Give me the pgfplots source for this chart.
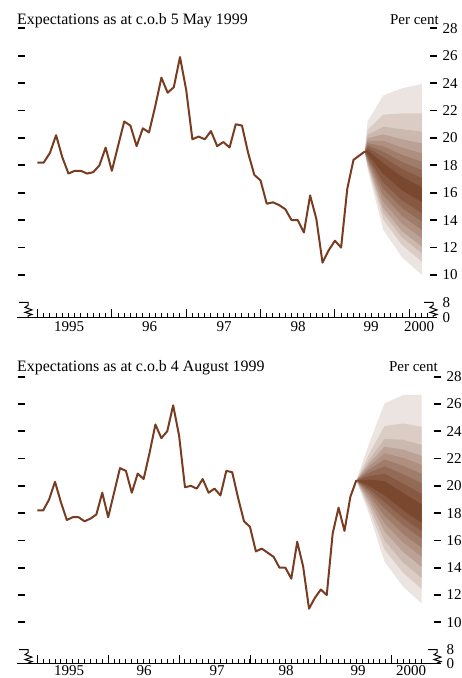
\documentclass[border=0pt]{standalone}
\usepackage{fontspec}
\setmainfont{Liberation Serif}
\usepackage{pgfplots}
\pgfplotsset{compat=1.18}
\usepackage{pgfplotstable}
\usepgfplotslibrary{fillbetween}
\definecolor{linebrown}{RGB}{120,60,33}
\definecolor{fanbrown}{RGB}{115,62,36}
\colorlet{fan1}{fanbrown!14}
\colorlet{fan2}{fanbrown!26}
\colorlet{fan3}{fanbrown!37}
\colorlet{fan4}{fanbrown!48}
\colorlet{fan5}{fanbrown!58}
\colorlet{fan6}{fanbrown!68}
\colorlet{fan7}{fanbrown!77}
\colorlet{fan8}{fanbrown!86}
\colorlet{fan9}{fanbrown!95}

\pgfplotstableread{
t y
1995.0000 18.2
1995.0833 18.2
1995.1667 18.9
1995.2500 20.2
1995.3333 18.6
1995.4167 17.4
1995.5000 17.6
1995.5833 17.6
1995.6667 17.4
1995.7500 17.5
1995.8333 18.0
1995.9167 19.3
1996.0000 17.6
1996.0833 19.4
1996.1667 21.2
1996.2500 20.9
1996.3333 19.4
1996.4167 20.7
1996.5000 20.4
1996.5833 22.3
1996.6667 24.4
1996.7500 23.3
1996.8333 23.7
1996.9167 25.9
1997.0000 23.5
1997.0833 19.9
1997.1667 20.1
1997.2500 19.9
1997.3333 20.5
1997.4167 19.4
1997.5000 19.7
1997.5833 19.3
1997.6667 21.0
1997.7500 20.9
1997.8333 18.9
1997.9167 17.3
1998.0000 16.9
1998.0833 15.2
1998.1667 15.3
1998.2500 15.1
1998.3333 14.8
1998.4167 14.0
1998.5000 14.0
1998.5833 13.1
1998.6667 15.8
1998.7500 14.1
1998.8333 10.9
1998.9167 11.8
1999.0000 12.5
1999.0833 12.0
1999.1667 16.3
1999.2500 18.4
1999.4000 19.0
}\lineA

\pgfplotstableread{
t y
1995.0000 18.2
1995.0833 18.2
1995.1667 19.0
1995.2500 20.3
1995.3333 18.8
1995.4167 17.5
1995.5000 17.7
1995.5833 17.7
1995.6667 17.4
1995.7500 17.6
1995.8333 17.9
1995.9167 19.5
1996.0000 17.7
1996.0833 19.5
1996.1667 21.3
1996.2500 21.1
1996.3333 19.5
1996.4167 20.9
1996.5000 20.5
1996.5833 22.4
1996.6667 24.5
1996.7500 23.5
1996.8333 24.0
1996.9167 25.9
1997.0000 23.7
1997.0833 19.9
1997.1667 20.0
1997.2500 19.8
1997.3333 20.5
1997.4167 19.5
1997.5000 19.8
1997.5833 19.3
1997.6667 21.1
1997.7500 21.0
1997.8333 19.1
1997.9167 17.4
1998.0000 17.0
1998.0833 15.2
1998.1667 15.4
1998.2500 15.1
1998.3333 14.8
1998.4167 14.0
1998.5000 14.0
1998.5833 13.2
1998.6667 15.9
1998.7500 14.1
1998.8333 11.0
1998.9167 11.8
1999.0000 12.4
1999.0833 12.0
1999.1667 16.5
1999.2500 18.4
1999.3333 16.7
1999.4167 19.2
1999.5000 20.4
}\lineB

\pgfplotstableread{
t q05 q10 q15 q20 q25 q30 q35 q40 q45 q55 q60 q65 q70 q75 q80 q85 q90 q95
1999.40 19.0 19.0 19.0 19.0 19.0 19.0 19.0 19.0 19.0 19.0 19.0 19.0 19.0 19.0 19.0 19.0 19.0 19.0
1999.44 17.70 17.91 18.04 18.14 18.27 18.40 18.53 18.66 18.83 19.10 19.29 19.45 19.62 19.79 19.99 20.23 20.60 21.20
1999.65 13.30 14.05 14.52 14.89 15.36 15.82 16.30 16.76 17.38 18.16 18.60 18.99 19.39 19.79 20.26 20.82 21.70 23.10
1999.90 11.30 12.20 12.76 13.21 13.77 14.33 14.90 15.45 16.19 17.17 17.74 18.25 18.77 19.30 19.91 20.64 21.79 23.62
2000.17 10.00 10.97 11.58 12.07 12.68 13.28 13.90 14.50 15.30 16.40 17.06 17.66 18.27 18.88 19.60 20.46 21.80 23.94
}\fanA

\pgfplotstableread{
t q05 q10 q15 q20 q25 q30 q35 q40 q45 q55 q60 q65 q70 q75 q80 q85 q90 q95
1999.5 20.4 20.4 20.4 20.4 20.4 20.4 20.4 20.4 20.4 20.4 20.4 20.4 20.4 20.4 20.4 20.4 20.4 20.4
1999.69 17.80 18.19 18.49 18.79 19.06 19.31 19.55 19.75 19.98 20.46 20.73 20.99 21.23 21.46 21.69 21.97 22.43 23.24
1999.90 14.44 15.32 15.98 16.65 17.25 17.80 18.35 18.80 19.30 20.34 20.89 21.43 21.93 22.39 22.87 23.44 24.39 26.05
2000.16 12.61 13.63 14.39 15.16 15.86 16.49 17.12 17.65 18.22 19.48 20.17 20.85 21.47 22.06 22.66 23.38 24.57 26.66
2000.42 11.39 12.46 13.27 14.07 14.81 15.47 16.14 16.69 17.30 18.66 19.42 20.19 20.88 21.54 22.20 23.00 24.33 26.66
}\fanB

\pgfplotsset{
  fanaxis/.style={
    scale only axis,
    axis line style={draw=none},
    tick align=inside,
    xtick pos=left,
    ytick pos=both,
    yticklabel pos=right,
    ymax=28,
    xtick={1995,1996,1997,1998,1999,2000},
    xticklabels={},
    ytick={10,12,...,28},
    major tick length=7pt,
    minor tick length=4pt,
    major x tick style={/pgfplots/major tick length=8pt},
    x tick style={black, line width=0.9pt},
    y tick style={black, line width=1.7pt},
    tick label style={font=\fontsize{15}{18}\selectfont},
    /pgf/number format/assume math mode=true,
    yticklabel style={anchor=west, xshift=2pt},
  }
}

\newcommand{\brk}[3]{%
  \draw[line width=1pt] ({#1-9},{-#2}) -- ({#1},{-#2}) -- ({#1},{-#2-3}) -- ({#1-3},{-#2-5}) -- ({#1+4},{-#2-7.5}) -- ({#1-3},{-#2-10}) -- ({#1+4},{-#2-12}) -- ({#1},{-#2-13.5}) -- ({#1},{-#3});}

\begin{document}
\begin{tikzpicture}[x=1pt,y=1pt]

% ---------- top panel ----------
\begin{axis}[fanaxis,
  at={(18pt,-317.3pt)}, anchor=south west,
  width=419pt, height=289pt,
  xmin=1994.738, xmax=2000.373, ymin=6.91,
  minor xtick={1995,1995.08333,...,2000.2},
  extra y ticks={6.91,8},
  extra y tick labels={0,8},
  extra y tick style={major tick length=0pt},
  ]
  \pgfplotsinvokeforeach{05,10,15,20,25,30,35,40,45,55,60,65,70,75,80,85,90,95}{
    \addplot[draw=none, forget plot, name path=a#1] table[x=t, y=q#1]{\fanA};
  }
  \addplot[fill=fan1, draw=none] fill between[of=a95 and a05];
  \addplot[fill=fan2, draw=none] fill between[of=a90 and a10];
  \addplot[fill=fan3, draw=none] fill between[of=a85 and a15];
  \addplot[fill=fan4, draw=none] fill between[of=a80 and a20];
  \addplot[fill=fan5, draw=none] fill between[of=a75 and a25];
  \addplot[fill=fan6, draw=none] fill between[of=a70 and a30];
  \addplot[fill=fan7, draw=none] fill between[of=a65 and a35];
  \addplot[fill=fan8, draw=none] fill between[of=a60 and a40];
  \addplot[fill=fan9, draw=none] fill between[of=a55 and a45];
  \addplot[linebrown, line width=2pt, line join=round] table[x=t, y=y]{\lineA};
\end{axis}

% ---------- bottom panel ----------
\begin{axis}[fanaxis,
  at={(18pt,-663.3pt)}, anchor=south west,
  width=423pt, height=286.6pt,
  xmin=1994.728, xmax=2000.695, ymin=6.995,
  minor xtick={1995,1995.08333,...,2000.45},
  extra y ticks={6.995,8},
  extra y tick labels={0,8},
  extra y tick style={major tick length=0pt},
  ]
  \pgfplotsinvokeforeach{05,10,15,20,25,30,35,40,45,55,60,65,70,75,80,85,90,95}{
    \addplot[draw=none, forget plot, name path=b#1] table[x=t, y=q#1]{\fanB};
  }
  \addplot[fill=fan1, draw=none] fill between[of=b95 and b05];
  \addplot[fill=fan2, draw=none] fill between[of=b90 and b10];
  \addplot[fill=fan3, draw=none] fill between[of=b85 and b15];
  \addplot[fill=fan4, draw=none] fill between[of=b80 and b20];
  \addplot[fill=fan5, draw=none] fill between[of=b75 and b25];
  \addplot[fill=fan6, draw=none] fill between[of=b70 and b30];
  \addplot[fill=fan7, draw=none] fill between[of=b65 and b35];
  \addplot[fill=fan8, draw=none] fill between[of=b60 and b40];
  \addplot[fill=fan9, draw=none] fill between[of=b55 and b45];
  \addplot[linebrown, line width=2pt, line join=round] table[x=t, y=y]{\lineB};
\end{axis}

% axis base lines and breaks
\draw[line width=1.2pt] (17,-317.3) -- (437,-317.3);
\draw[line width=1.2pt] (17,-663.3) -- (441,-663.3);
\brk{28}{302.4}{317.3}
\brk{433}{302.4}{317.3}
\brk{28}{649.6}{663.3}
\brk{437}{649.6}{663.3}

% year labels
\begin{scope}[every node/.style={anchor=north, inner sep=0pt, font=\fontsize{15}{18}\selectfont}]
\node at (69,-321) {1995};
\node at (149.5,-321) {96};
\node at (224,-321) {97};
\node at (298,-321) {98};
\node at (371,-321) {99};
\node at (419,-321) {2000};
\node at (69,-665.8) {1995};
\node at (144,-665.8) {96};
\node at (217,-665.8) {97};
\node at (286,-665.8) {98};
\node at (358,-665.8) {99};
\node at (411,-665.8) {2000};
\end{scope}

% titles
\node[anchor=base west, inner sep=0pt, font=\fontsize{15.9}{18}\selectfont] at (17,-24) {Expectations as at c.o.b 5 May 1999};
\node[anchor=base east, inner sep=0pt, font=\fontsize{15}{18}\selectfont] at (439,-24) {Per cent};
\node[anchor=base west, inner sep=0pt, font=\fontsize{15.9}{18}\selectfont] at (17,-371.5) {Expectations as at c.o.b 4 August 1999};
\node[anchor=base east, inner sep=0pt, font=\fontsize{15}{18}\selectfont] at (438,-371.5) {Per cent};

\pgfresetboundingbox
\path[use as bounding box] (0,0) rectangle (461,-678);
\end{tikzpicture}
\end{document}
